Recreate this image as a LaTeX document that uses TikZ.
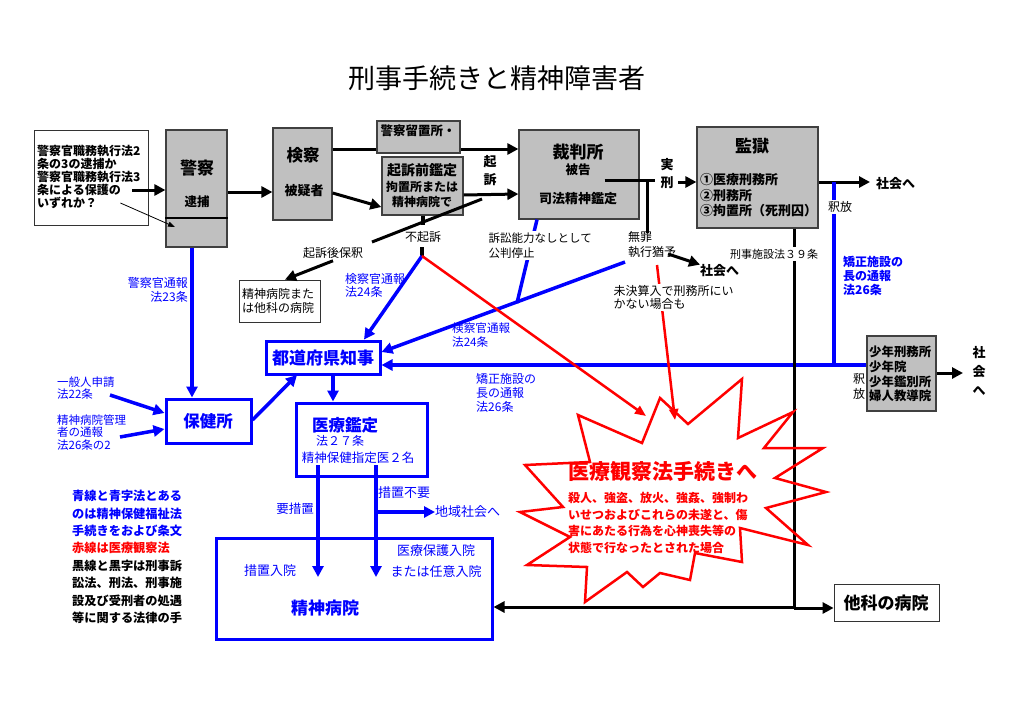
\documentclass[tikz,border=0pt]{standalone}
\usepackage{fontspec}
\setmainfont{Noto Sans CJK JP}
\usetikzlibrary{arrows.meta}
\definecolor{lawblue}{RGB}{0,0,255}
\definecolor{lawred}{RGB}{255,0,0}
\definecolor{boxgrey}{RGB}{192,192,192}
\newcommand\fz[2]{\fontsize{#1}{#2}\selectfont}
\begin{document}
\begin{tikzpicture}[x=1pt,y=-1pt,
    grey box/.style={draw=black!75,line width=1.2pt,fill=boxgrey,inner sep=0pt},
    blue box/.style={draw=lawblue,line width=3pt,fill=white,inner sep=0pt},
    white box/.style={draw=black!80,line width=0.8pt,fill=white,inner sep=0pt},
    txt/.style={inner sep=0pt},
    mask/.style={inner sep=1.5pt,fill=white},
    tip/.style={-{Triangle[length=11pt,width=11pt]}},
    black arrow/.style={line width=3pt,tip},
    black line/.style={line width=3pt},
    blue arrow/.style={draw=lawblue,line width=3.5pt,tip},
    blue line/.style={draw=lawblue,line width=3.5pt},
    red arrow/.style={draw=lawred,line width=2.5pt,-{Triangle[length=11pt,width=9pt]}}]
  \useasboundingbox (0,0) rectangle (1024,725);

  \node[txt,font=\fz{27}{30}] (title) at (497,78) {刑事手続きと精神障害者};

  % boxes
  \node[white box,minimum width=114,minimum height=95] (note) at (91,177.5) {};
  \node[grey box,minimum width=61,minimum height=117] (keisatsu) at (196.5,188.5) {};
  \node[grey box,minimum width=59,minimum height=92] (kensatsu) at (302.5,174) {};
  \node[grey box,minimum width=120,minimum height=89] (saiban) at (579,174.5) {};
  \draw[black arrow] (kensatsu.east |- 0,149) -- (saiban.west |- 0,149);
  \node[grey box,minimum width=83,minimum height=32] (ryuchi) at (418.5,137) {};
  \node[grey box,minimum width=81,minimum height=58] (kiso) at (422.5,186) {};
  \node[grey box,minimum width=121,minimum height=101] (kangoku) at (757.5,177.5) {};
  \node[white box,minimum width=81,minimum height=42] (otherhosp) at (279.5,301) {};
  \node[blue box,minimum width=114,minimum height=33] (chiji) at (323,357.5) {};
  \node[blue box,minimum width=85,minimum height=44] (hokenjo) at (208.5,421) {};
  \node[blue box,minimum width=131,minimum height=73] (kantei) at (361.5,439.5) {};
  \node[blue box,minimum width=276,minimum height=101] (seishin) at (354,588.5) {};
  \node[grey box,minimum width=69,minimum height=75] (shonen) at (901.5,373.5) {};
  \node[white box,minimum width=105,minimum height=37] (taka) at (886.5,602.5) {};

  % texts in the boxes
  \node[txt,font=\fz{12}{12.8}\bfseries,align=left,anchor=west] (note text) at (37,177)
    {警察官職務執行法2\\条の3の逮捕か\\警察官職務執行法3\\条による保護の\\いずれか？};
  \node[txt,font=\fz{17}{20}\bfseries] (keisatsu title) at (197,168) {警察};
  \node[txt,font=\fz{12.5}{15}\bfseries] (taiho) at (197,202) {逮捕};
  \draw[line width=1.2pt] (keisatsu.west |- 0,218) -- (keisatsu.east |- 0,218);
  \node[txt,font=\fz{16.5}{20}\bfseries] (kensatsu title) at (303,155) {検察};
  \node[txt,font=\fz{13}{15}\bfseries] (higisha) at (304,191) {被疑者};
  \node[txt,font=\fz{12.5}{15}\bfseries] (ryuchi text) at (418,131) {警察留置所・};
  \node[txt,font=\fz{14}{16}\bfseries] (kiso title) at (422,170) {起訴前鑑定};
  \node[txt,font=\fz{12}{15.5}\bfseries,align=center] (kiso text) at (422,194.5) {拘置所または\\精神病院で};
  \node[txt,font=\fz{17}{20}\bfseries] (saiban title) at (578,152) {裁判所};
  \node[txt,font=\fz{12.5}{15}\bfseries] (hikoku) at (578,170) {被告};
  \node[txt,font=\fz{13}{15}\bfseries] (shiho) at (578,199) {司法精神鑑定};
  \node[txt,font=\fz{17}{20}\bfseries] (kangoku title) at (752,146) {監獄};
  \node[txt,font=\fz{13}{15.5}\bfseries,align=left,anchor=west] (kangoku text) at (700,195.5)
    {①医療刑務所\\②刑務所\\③拘置所（死刑囚）};
  \node[txt,font=\fz{12}{14},align=left] (otherhosp text) at (278,301) {精神病院また\\は他科の病院};
  \node[txt,font=\fz{17}{20}\bfseries,text=lawblue] (chiji text) at (323,358) {都道府県知事};
  \node[txt,font=\fz{16.5}{20}\bfseries,text=lawblue] (hokenjo text) at (208,421) {保健所};
  \node[txt,font=\fz{16.5}{20}\bfseries,text=lawblue] (kantei title) at (345,425) {医療鑑定};
  \node[txt,font=\fz{12}{14},text=lawblue] (kantei law) at (340,441) {法２７条};
  \node[txt,font=\fz{12.5}{14},text=lawblue] (kantei doc) at (358,458) {精神保健指定医２名};
  \node[txt,font=\fz{13}{15},text=lawblue] (sochi in) at (270,571) {措置入院};
  \node[txt,font=\fz{13}{21},text=lawblue,align=center] (hogo in) at (436,561.5) {医療保護入院\\または任意入院};
  \node[txt,font=\fz{17}{20}\bfseries,text=lawblue] (seishin text) at (325,608) {精神病院};
  \node[txt,font=\fz{12.4}{14.6}\bfseries,align=left,anchor=west] (shonen text) at (869,374)
    {少年刑務所\\少年院\\少年鑑別所\\婦人教導院};
  \node[txt,font=\fz{17}{20}\bfseries] (taka text) at (886,603) {他科の病院};

  % black connectors
  \draw[black arrow] (note.east |- 0,190) ++(-16,0) -- (keisatsu.west |- 0,190);
  \draw[line width=0.8pt,-{Triangle[length=7pt,width=5pt]}] (note.east |- 0,203) ++(-28,0) -- (175,227);
  \draw[black arrow] (keisatsu.east |- 0,192) -- (kensatsu.west |- 0,192);
  \draw[black arrow] (kensatsu.east |- 0,193) -- (kiso.west |- 0,207);
  \draw[black arrow] (kiso.east |- 0,195) -- (saiban.west |- 0,194);
  \draw[black line] (372,242) -- (482,199);
  \node[txt,font=\fz{12}{14}] (hoshaku) at (333,253) {起訴後保釈};
  \draw[black arrow] (hoshaku.south) ++(0,2) -- (otherhosp.north -| 285,0);
  \node[txt,font=\fz{13}{18}\bfseries,align=center] (kiso v) at (490,171) {起\\訴};
  \draw[line width=4pt] (kiso.south) -- ++(0,9);
  \node[txt,font=\fz{12}{14}] (fukiso) at (423,237) {不起訴};
  \coordinate (fukiso end) at (422,256);
  \draw[line width=4.5pt] (fukiso end) -- ++(0,-9);

  \draw[black line] (saiban.east |- 0,180) ++(-35,0) -- (655,180);
  \draw[black line] (647,180) -- (647,233);
  \node[txt,font=\fz{13}{18}\bfseries,align=center] (jikkei) at (667,174) {実\\刑};
  \draw[black arrow] (678,182) -- (kangoku.west |- 0,182);
  \node[txt,font=\fz{12}{15},align=left,anchor=west] (muzai) at (628,244.5) {無罪\\執行猶予};
  \node[txt,font=\fz{13}{15}\bfseries,anchor=west] (society a) at (700,271) {社会へ};
  \draw[black arrow] (668,254) -- (society a.north west);
  \draw[black arrow] (kangoku.east |- 0,182) -- (870,182);
  \node[txt,font=\fz{13}{15}\bfseries,anchor=west] (society b) at (876,184) {社会へ};

  % blue connectors
  \draw[blue arrow] (keisatsu.south -| 192,0) -- (hokenjo.north -| 192,0);
  \node[txt,font=\fz{12}{14},text=lawblue,align=right,anchor=east] (police report) at (188,290) {警察官通報\\法23条};
  \node[txt,font=\fz{11.5}{12},text=lawblue,align=left,anchor=west] (public) at (57,388) {一般人申請\\法22条};
  \node[txt,font=\fz{11.5}{12.5},text=lawblue,align=left,anchor=west] (hosp report) at (57,432.5) {精神病院管理\\者の通報\\法26条の2};
  \draw[blue arrow] (110,395) -- (hokenjo.west |- 0,413);
  \draw[blue arrow] (120,437) -- (hokenjo.west |- 0,429);
  \draw[blue arrow] (hokenjo.east |- 0,420) -- (297,375);
  \draw[blue arrow] (chiji.south -| 333,0) -- (kantei.north -| 333,0);
  \draw[blue arrow] (fukiso end) -- (chiji.north -| 364,0);
  \node[txt,font=\fz{12}{13},text=lawblue,align=left,anchor=west] (pros report a) at (345,285.5) {検察官通報\\法24条};
  \draw[blue line] (saiban.south -| 537,0) -- (517,303);
  \node[mask,font=\fz{11.5}{15},align=left,anchor=west] (teishi) at (487,245.5) {訴訟能力なしとして\\公判停止};
  \draw[blue arrow] (625,262) -- (chiji.east |- 0,352);
  \node[txt,font=\fz{11.6}{14},text=lawblue,align=left,anchor=west] (pros report b) at (452,335) {検察官通報\\法24条};
  \draw[blue line] (834,182) -- (834,365);
  \node[mask,font=\fz{12}{14}] (shakuho a) at (840,207) {釈放};
  \node[txt,font=\fz{12}{14}\bfseries,text=lawblue,align=left,anchor=west] (corr report a) at (843,276) {矯正施設の\\長の通報\\法26条};
  \draw[blue arrow] (shonen.west |- 0,365) -- (chiji.east |- 0,365);
  \node[txt,font=\fz{12}{14},text=lawblue,align=left,anchor=west] (corr report b) at (476,393) {矯正施設の\\長の通報\\法26条};
  \node[txt,font=\fz{12}{15},align=center] (shakuho b) at (859,386.5) {釈\\放};
  \draw[black arrow] (shonen.east |- 0,373) -- (963,373);
  \node[txt,font=\fz{13}{19}\bfseries,align=center] (society c) at (979,371) {社\\会\\へ};

  % measures after the examination
  \draw[blue arrow] (318,465) -- (318,577);
  \draw[blue arrow] (376,465) -- (376,577);
  \node[txt,font=\fz{12.5}{14},text=lawblue] (yosochi) at (295,509) {要措置};
  \node[txt,font=\fz{13}{15},text=lawblue] (fuyo) at (404,493) {措置不要};
  \node[txt,font=\fz{13}{15},text=lawblue,anchor=west] (community) at (435,512) {地域社会へ};
  \draw[blue arrow] (376,512) -- (community.west);

  % prison law line
  \draw[black line] (kangoku.south -| 794,0) -- (794,608);
  \node[mask,font=\fz{11}{13}] (shisetsu) at (774,254) {刑事施設法３９条};
  \draw[black arrow] (794,608) -- (taka.west |- 0,608);
  \draw[black arrow] (794,607) -- (seishin.east |- 0,607);

  % medical treatment act
  \draw[lawred,line width=2.5pt,line join=miter] (660,398) -- (688,424) -- (742,379) -- (738,438)
    -- (793,412) -- (764,448) -- (823,448) -- (775,478) -- (826,492) -- (766,508) -- (808,545)
    -- (740,528) -- (742,562) -- (695,553) -- (690,580) -- (660,573) -- (643,587) -- (627,572)
    -- (585,602) -- (587,567) -- (527,565) -- (570,537) -- (520,512) -- (563,507) -- (525,465)
    -- (590,462) -- (578,415) -- (642,443) -- cycle;
  \draw[red arrow] (fukiso end) -- (646,416);
  \draw[red arrow] (657,265) -- (675,420);
  \node[mask,font=\fz{12}{13},align=left,anchor=west] (mikketsu) at (612,297.5) {未決算入で刑務所にい\\かない場合も};
  \node[txt,font=\fz{21}{24}\bfseries,text=lawred] (kansatsu title) at (663,471) {医療観察法手続きへ};
  \node[txt,font=\fz{12}{16.5}\bfseries,text=lawred,align=left,anchor=west] (kansatsu text) at (568,523)
    {殺人、強盗、放火、強姦、強制わ\\いせつおよびこれらの未遂と、傷\\害にあたる行為を心神喪失等の\\状態で行なったとされた場合};

  % legend
  \node[txt,font=\fz{12.2}{17.4}\bfseries,align=left,anchor=west] (legend) at (72,557)
    {\textcolor{lawblue}{青線と青字法とある}\\\textcolor{lawblue}{のは精神保健福祉法}\\
     \textcolor{lawblue}{手続きをおよび条文}\\\textcolor{lawred}{赤線は医療観察法}\\
     黒線と黒字は刑事訴\\訟法、刑法、刑事施\\設及び受刑者の処遇\\等に関する法律の手};
\end{tikzpicture}
\end{document}
